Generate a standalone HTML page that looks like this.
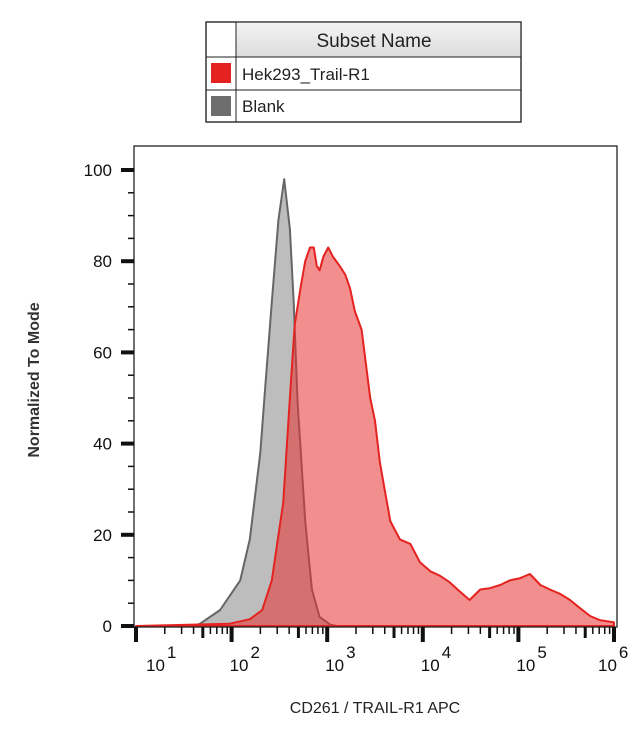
<!DOCTYPE html>
<html><head><meta charset="utf-8"><style>
body{margin:0;background:#fff;}
svg{display:block;font-family:"Liberation Sans",Arial,sans-serif;}
</style></head><body>
<svg width="640" height="736" viewBox="0 0 640 736">
<defs><linearGradient id="hg" x1="0" y1="0" x2="0" y2="1"><stop offset="0" stop-color="#f4f4f4"/><stop offset="1" stop-color="#dcdcdc"/></linearGradient></defs>
<g>
<rect x="206" y="22" width="315" height="100" fill="#fff" stroke="#222" stroke-width="1.2"/>
<rect x="236" y="22" width="285" height="35" fill="url(#hg)"/>
<line x1="206" y1="57" x2="521" y2="57" stroke="#222"/>
<line x1="206" y1="90" x2="521" y2="90" stroke="#222"/>
<line x1="236" y1="22" x2="236" y2="122" stroke="#222"/>
<rect x="206" y="22" width="315" height="100" fill="none" stroke="#222" stroke-width="1.2"/>
<text x="374" y="47" font-size="19" text-anchor="middle" fill="#222">Subset Name</text>
<rect x="211" y="63" width="20" height="20" fill="#e42320"/>
<text x="242" y="80" font-size="17" fill="#222">Hek293_Trail-R1</text>
<rect x="211" y="96" width="20" height="20" fill="#6e6e6e"/>
<text x="242" y="112" font-size="17" fill="#222">Blank</text>
</g>
<g id="plot"></g>
<text x="0" y="0" transform="translate(39,380) rotate(-90)" font-size="16" font-weight="bold" text-anchor="middle" fill="#333">Normalized To Mode</text>
<text x="375" y="713" font-size="16" text-anchor="middle" fill="#222">CD261 / TRAIL-R1 APC</text>
</svg>
<script>
const blankX=[1.60,1.67,1.88,2.09,2.19,2.30,2.35,2.42,2.49,2.55,2.61,2.65,2.69,2.77,2.84,2.92,3.03,3.10];
const blankY=[0,0.5,3.5,10,19,38,52,71,89,98,87,71,49,23,8,2,0.3,0];
const redX=[1.0,1.98,2.19,2.32,2.42,2.54,2.61,2.66,2.72,2.77,2.82,2.86,2.89,2.92,2.96,3.01,3.06,3.13,3.19,3.24,3.29,3.36,3.45,3.50,3.55,3.60,3.66,3.76,3.87,3.97,4.08,4.18,4.28,4.39,4.49,4.60,4.70,4.81,4.91,5.02,5.12,5.23,5.33,5.44,5.54,5.64,5.75,5.85,6.0];
const redY=[0,0.5,1.5,3.5,10,27,50,66,74,80,83,83,79,78,81,83,81,79,77,74,69,65,50,45,36,30,23,19,18,14,12,11,9.6,7.5,5.7,8,8.3,9,10,10.5,11.4,9,8,7,5.7,4,2.2,1.3,0.8];
const yTicks=[0,20,40,60,80,100];
const xDecades=[1,2,3,4,5,6];
const L=134,R=617,T=146,B=627;
const xs=v=>136+(v-1)*95.6;
const ys=v=>626-v*4.56;
const NS='http://www.w3.org/2000/svg';
const g=document.getElementById('plot');
function mk(t,a){const e=document.createElementNS(NS,t);for(const k in a)e.setAttribute(k,a[k]);g.appendChild(e);return e;}
function area(X,Y,fill,stroke,name){
  let d='M'+xs(X[0])+','+ys(0);
  for(let i=0;i<X.length;i++)d+='L'+xs(X[i]).toFixed(1)+','+ys(Y[i]).toFixed(1);
  d+='L'+xs(X[X.length-1])+','+ys(0)+'Z';
  const p=mk('path',{d:d,fill:fill,stroke:stroke,'stroke-width':2,'stroke-linejoin':'round'});
  
  
}
area(blankX,blankY,'#bdbdbd','#666','series-blank');
area(redX,redY,'rgba(232,50,50,0.55)','#e42320','series-hek293');
const fr=mk('rect',{x:L,y:T,width:R-L,height:B-T,fill:'none',stroke:'#222','stroke-width':1.3});


for(let v=0;v<=100;v+=5){mk('line',{x1:L-(v%20?6:13),x2:L,y1:ys(v),y2:ys(v),stroke:'#111','stroke-width':v%20?1.5:4});}
yTicks.forEach(v=>{const t=mk('text',{x:112,y:ys(v)+6,'font-size':17,'text-anchor':'end',fill:'#111'});t.textContent=v;

});
xDecades.forEach((d,i)=>{
  mk('line',{x1:xs(d),x2:xs(d),y1:B,y2:B+15,stroke:'#111','stroke-width':4});
  if(i<xDecades.length-1)for(let k=2;k<=9;k++){const x=xs(d+Math.log10(k));mk('line',{x1:x,x2:x,y1:B,y2:B+(k==5?11:7),stroke:'#111','stroke-width':k==5?3:1.5});}
  const t=mk('text',{x:xs(d)+(i==0?10:-2)+(i==5?-14:0),y:671,'font-size':17,fill:'#111'});
  t.innerHTML='10<tspan dy="-13" font-size="17" dx="2">'+d+'</tspan>';
  
  
});
</script>
</body></html>
